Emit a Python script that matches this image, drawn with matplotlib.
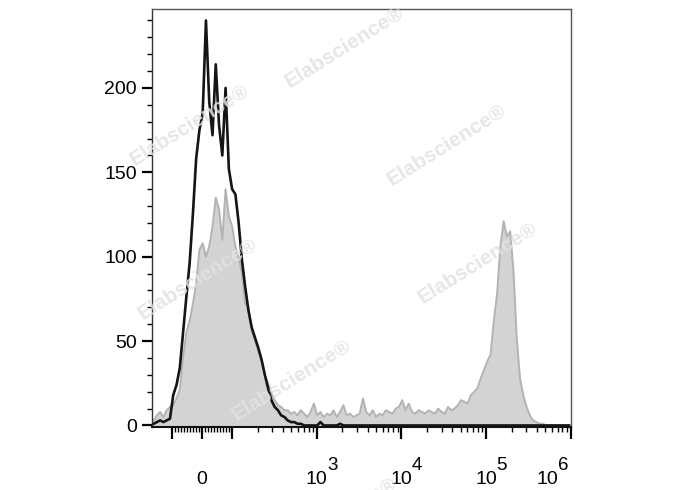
import numpy as np
import matplotlib
matplotlib.use("Agg")
import matplotlib.pyplot as plt
from matplotlib.ticker import FixedLocator, NullFormatter

# flow cytometry overlay histogram on a biexponential-like (symlog) axis
# gray filled = stained sample, black outline = unstained control

plt.rcParams["font.family"] = ["Liberation Sans", "DejaVu Sans"]

# axis range (fluorescence units)
x_min = -171
x_max = 1e6
n_bins = 128  # channels, equally spaced on the display scale

# counts per channel
black_counts = [
    1, 2, 3, 2, 3, 4, 18, 24, 34, 55,
    76, 96, 125, 158, 175, 185, 240, 192, 172, 214,
    178, 160, 200, 152, 140, 137, 120, 98, 82, 68,
    58, 52, 46, 39, 30, 22, 15, 11, 9, 6,
    5, 3, 2, 2, 1, 1, 0, 0, 0, 0,
    0, 2, 0, 0, 0, 0, 0, 1, 0, 0,
    0, 0, 0, 0, 0, 0, 0, 0, 0, 0,
    0, 0, 0, 0, 0, 0, 0, 0, 0, 0,
    0, 0, 0, 0, 0, 0, 0, 0, 0, 0,
    0, 0, 0, 0, 0, 0, 0, 0, 0, 0,
    0, 0, 0, 0, 0, 0, 0, 0, 0, 0,
    0, 0, 0, 0, 0, 0, 0, 0, 0, 0,
    0, 0, 0, 0, 0, 0, 0, 0,
]

gray_counts = [
    3, 6, 8, 5, 9, 11, 12, 16, 21, 40,
    55, 62, 72, 84, 104, 108, 100, 106, 118, 135,
    128, 110, 140, 124, 118, 106, 100, 90, 72, 70,
    56, 50, 44, 38, 30, 25, 19, 15, 12, 11,
    9, 9, 7, 8, 6, 9, 7, 5, 8, 13,
    6, 8, 5, 7, 6, 9, 5, 8, 12, 6,
    7, 5, 6, 7, 16, 8, 6, 9, 5, 7,
    6, 9, 8, 7, 10, 11, 15, 9, 13, 8,
    7, 9, 8, 7, 9, 8, 7, 10, 8, 7,
    11, 9, 10, 12, 15, 14, 13, 18, 20, 22,
    28, 33, 38, 42, 62, 78, 106, 121, 112, 115,
    92, 52, 28, 18, 11, 6, 3, 2, 1, 1,
    0, 0, 0, 0, 0, 0, 0, 0,
]

x_major = [-100, 0, 100, 1e3, 1e4, 1e5, 1e6]
# labelled ticks: base text, exponent, sideways shift of the label (points)
x_label_pos = [0, 1e3, 1e4, 1e5, 1e6]
x_label_base = ["0", "10", "10", "10", "10"]
x_label_exp = ["", "3", "4", "5", "6"]
x_label_shift = [0, 0, 0, 0, -16.5]
y_major = [0, 50, 100, 150, 200]

fig = plt.figure(figsize=(6.88, 4.9), dpi=100)
ax = fig.add_axes([0.2209, 0.1286, 0.6086, 0.8524])

ax.set_xscale("symlog", linthresh=100, linscale=0.321)
ax.set_xlim(x_min, x_max)
ax.set_ylim(-0.9, 246.6)

# channel centres: equally spaced on the display scale
tr = ax.xaxis.get_transform()
lo, hi = tr.transform(np.array([x_min, x_max], dtype=float))
step = (hi - lo) / n_bins
centers = tr.inverted().transform(lo + step * (np.arange(n_bins) + 0.5))

gray = np.array(gray_counts, dtype=float)
black = np.array(black_counts, dtype=float)

ax.fill_between(centers, gray, 0, color="#d3d3d3", lw=0, zorder=1)
ax.plot(centers, gray, color="#b3b3b3", lw=1.4, zorder=2)
ax.plot(centers, black, color="#151515", lw=1.9, zorder=3)

# ticks
x_minor = [v for v in range(-90, 100, 10) if v != 0]
for e in range(2, 6):
    x_minor += [m * 10 ** e for m in range(2, 10)]
ax.xaxis.set_major_locator(FixedLocator(x_major))
ax.xaxis.set_major_formatter(NullFormatter())
ax.xaxis.set_minor_locator(FixedLocator(x_minor))
ax.xaxis.set_minor_formatter(NullFormatter())

ax.yaxis.set_major_locator(FixedLocator(y_major))
ax.yaxis.set_minor_locator(FixedLocator(list(range(10, 250, 10))))

ax.tick_params(axis="x", which="major", direction="out", length=8.6, width=1.6)
ax.tick_params(axis="x", which="minor", direction="out", length=3.8, width=1.0)
ax.tick_params(axis="y", which="major", direction="out", length=7, width=1.6,
               pad=4, labelsize=14)
ax.tick_params(axis="y", which="minor", direction="out", length=3.5, width=1.0)

# x labels: "10" centred on the tick with a full size raised exponent
for xv, base, ex, sh in zip(x_label_pos, x_label_base, x_label_exp, x_label_shift):
    ax.annotate(base, xy=(xv, 0), xycoords=("data", "axes fraction"),
                xytext=(sh, -41), textcoords="offset points",
                ha="center", va="baseline", fontsize=14, annotation_clip=False)
    if ex:
        ax.annotate(ex, xy=(xv, 0), xycoords=("data", "axes fraction"),
                    xytext=(sh + 7.5, -31), textcoords="offset points",
                    ha="left", va="baseline", fontsize=13.5, annotation_clip=False)

for side in ["top", "right"]:
    ax.spines[side].set_color("#555555")
    ax.spines[side].set_linewidth(1.0)
ax.spines["left"].set_color("#333333")
ax.spines["left"].set_linewidth(1.0)
ax.spines["bottom"].set_color("#111111")
ax.spines["bottom"].set_linewidth(1.5)

# watermark
marks = [(345, 47), (190, 125), (447, 145), (198, 279), (478, 263), (292, 380), (338, 518)]
for px, py in marks:
    fig.text(px / 688, 1 - py / 490, "Elabscience\u00ae", rotation=32,
             ha="center", va="center", fontsize=15, fontweight="bold",
             color="#e2e2e2", alpha=0.85, zorder=10)

fig.savefig("out.png", dpi=100)
